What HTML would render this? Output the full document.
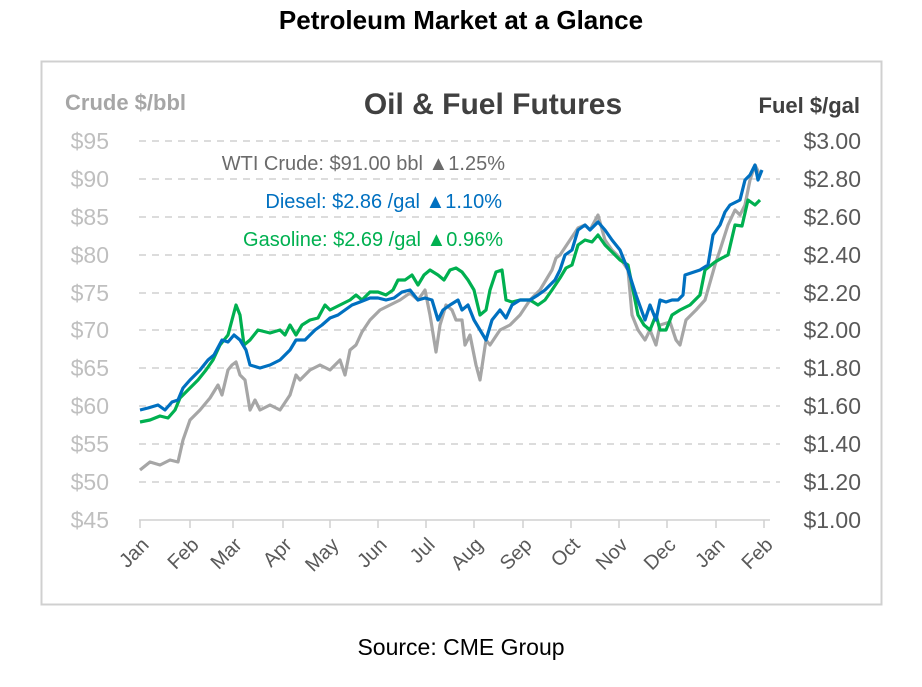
<!DOCTYPE html>
<html><head><meta charset="utf-8"><style>
html,body{margin:0;padding:0;background:#fff;}
body{width:922px;height:682px;overflow:hidden;font-family:"Liberation Sans",sans-serif;}
</style></head><body>
<svg width="922" height="682" viewBox="0 0 922 682" xmlns="http://www.w3.org/2000/svg" font-family="Liberation Sans, sans-serif">
<text x="461" y="29" text-anchor="middle" font-size="26" font-weight="bold" fill="#000">Petroleum Market at a Glance</text>
<rect x="41.5" y="61.5" width="840" height="543" fill="#fff" stroke="#d0d0d0" stroke-width="2"/>
<text x="65" y="110" font-size="22" font-weight="bold" fill="#a6a6a6">Crude $/bbl</text>
<text x="493" y="114" text-anchor="middle" font-size="30" font-weight="bold" fill="#404040">Oil &amp; Fuel Futures</text>
<text x="860" y="113" text-anchor="end" font-size="22" font-weight="bold" fill="#404040">Fuel $/gal</text>
<g stroke="#d0d0d0" stroke-width="1.5" stroke-dasharray="7,6">
<line x1="139" y1="141" x2="780" y2="141"/><line x1="139" y1="179" x2="780" y2="179"/>
<line x1="139" y1="217" x2="780" y2="217"/><line x1="139" y1="255" x2="780" y2="255"/>
<line x1="139" y1="293" x2="780" y2="293"/><line x1="139" y1="330" x2="780" y2="330"/>
<line x1="139" y1="368" x2="780" y2="368"/><line x1="139" y1="406" x2="780" y2="406"/>
<line x1="139" y1="444" x2="780" y2="444"/><line x1="139" y1="482" x2="780" y2="482"/>
</g>
<line x1="139" y1="520" x2="770" y2="520" stroke="#d0d0d0" stroke-width="1.5"/>
<g stroke="#d0d0d0" stroke-width="1.5">
<line x1="140" y1="520" x2="140" y2="528"/><line x1="190" y1="520" x2="190" y2="528"/><line x1="233" y1="520" x2="233" y2="528"/><line x1="283" y1="520" x2="283" y2="528"/><line x1="330" y1="520" x2="330" y2="528"/><line x1="378" y1="520" x2="378" y2="528"/><line x1="426" y1="520" x2="426" y2="528"/><line x1="474" y1="520" x2="474" y2="528"/><line x1="523" y1="520" x2="523" y2="528"/><line x1="571" y1="520" x2="571" y2="528"/><line x1="619" y1="520" x2="619" y2="528"/><line x1="667" y1="520" x2="667" y2="528"/><line x1="716" y1="520" x2="716" y2="528"/><line x1="764" y1="520" x2="764" y2="528"/>
</g>
<g font-size="23" fill="#bfbfbf" text-anchor="end">
<text x="109" y="149">$95</text><text x="109" y="187">$90</text><text x="109" y="225">$85</text><text x="109" y="263">$80</text><text x="109" y="301">$75</text><text x="109" y="338">$70</text><text x="109" y="376">$65</text><text x="109" y="414">$60</text><text x="109" y="452">$55</text><text x="109" y="490">$50</text><text x="109" y="528">$45</text>
</g>
<g font-size="23" fill="#595959" text-anchor="end">
<text x="861" y="149">$3.00</text><text x="861" y="187">$2.80</text><text x="861" y="225">$2.60</text><text x="861" y="263">$2.40</text><text x="861" y="301">$2.20</text><text x="861" y="338">$2.00</text><text x="861" y="376">$1.80</text><text x="861" y="414">$1.60</text><text x="861" y="452">$1.40</text><text x="861" y="490">$1.20</text><text x="861" y="528">$1.00</text>
</g>
<g font-size="20" fill="#595959" text-anchor="end">
<text transform="translate(150,546) rotate(-45)">Jan</text><text transform="translate(200,546) rotate(-45)">Feb</text><text transform="translate(243,546) rotate(-45)">Mar</text><text transform="translate(293,546) rotate(-45)">Apr</text><text transform="translate(340,546) rotate(-45)">May</text><text transform="translate(388,546) rotate(-45)">Jun</text><text transform="translate(436,546) rotate(-45)">Jul</text><text transform="translate(484,546) rotate(-45)">Aug</text><text transform="translate(533,546) rotate(-45)">Sep</text><text transform="translate(581,546) rotate(-45)">Oct</text><text transform="translate(629,546) rotate(-45)">Nov</text><text transform="translate(677,546) rotate(-45)">Dec</text><text transform="translate(726,546) rotate(-45)">Jan</text><text transform="translate(774,546) rotate(-45)">Feb</text>
</g>
<g font-size="20">
<text x="505" y="170" text-anchor="end" fill="#6b6b6b">WTI Crude: $91.00 bbl  ▲1.25%</text>
<text x="502" y="208" text-anchor="end" fill="#0070c0">Diesel:   $2.86 /gal  ▲1.10%</text>
<text x="503" y="246" text-anchor="end" fill="#00b050">Gasoline:   $2.69 /gal  ▲0.96%</text>
</g>
<g fill="none" stroke-width="3.2" stroke-linejoin="round">
<polyline stroke="#a6a6a6" points="140,470 150,462 160,465 170,460 178,462 183,440 190,420 200,410 210,398 218,385 222,395 228,370 232,365 236,362 240,375 245,380 250,410 255,400 260,410 270,405 280,410 290,395 296,375 300,380 310,370 320,365 330,370 340,360 345,375 350,350 356,345 362,332 370,320 380,310 390,305 400,300 410,293 418,300 425,290 430,315 436,352 440,325 446,305 452,310 456,320 462,320 465,345 470,335 476,365 480,380 486,340 490,345 500,330 510,325 520,315 530,300 540,290 546,280 552,270 556,258 560,255 570,240 578,228 585,225 590,230 598,215 605,240 612,250 620,258 628,270 632,315 638,330 645,340 650,330 656,345 660,325 670,322 676,340 680,345 686,320 696,310 705,300 715,265 720,250 728,225 735,210 740,215 745,205 750,180 755,165 760,175"/>
<polyline stroke="#00b050" points="140,422 150,420 160,416 168,418 175,410 180,398 190,388 198,380 206,370 213,360 220,345 228,335 232,320 236,305 240,315 244,345 250,340 258,330 270,333 280,330 285,335 290,325 296,335 302,325 310,320 318,318 325,305 330,310 340,305 350,300 356,295 362,300 370,292 378,292 386,295 393,290 398,280 405,280 412,275 418,285 424,275 430,270 438,275 444,280 450,270 456,268 462,272 468,280 474,290 480,315 486,310 490,290 496,272 502,270 506,300 512,302 520,300 530,300 538,305 545,300 552,290 560,278 566,268 572,265 578,245 585,240 592,242 598,235 605,245 612,252 620,260 628,265 632,285 638,315 644,325 650,330 656,315 660,330 666,330 672,315 680,310 690,305 700,295 705,270 715,262 722,258 728,255 735,225 742,226 748,200 755,205 760,200"/>
<polyline stroke="#0070c0" points="140,410 148,408 158,405 165,410 172,402 178,400 183,388 190,380 200,370 208,360 214,355 222,340 228,342 234,335 240,340 246,350 250,365 260,368 270,365 280,360 290,350 296,340 305,340 315,330 322,325 330,318 338,315 345,310 352,305 360,302 370,298 378,298 386,300 394,298 402,292 410,290 418,300 425,298 432,300 438,320 443,310 450,305 458,300 462,310 468,305 474,320 480,330 486,340 492,320 500,310 506,318 512,305 520,300 530,300 538,295 545,290 550,285 555,280 560,270 565,255 572,250 578,230 585,225 590,230 598,222 605,230 612,240 620,250 628,270 636,295 645,320 650,305 656,320 660,300 666,302 672,300 678,300 683,295 685,275 700,270 708,265 713,235 720,225 725,212 730,205 740,200 745,180 750,175 755,165 758,180 762,170"/>
</g>
<text x="461" y="655" text-anchor="middle" font-size="23" fill="#000">Source: CME Group</text>
</svg>
</body></html>
